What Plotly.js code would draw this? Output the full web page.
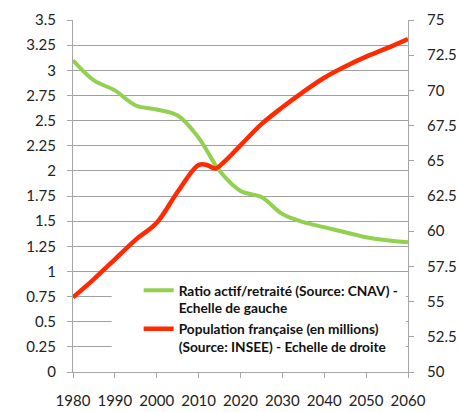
<!DOCTYPE html>
<html>
<head>
<meta charset="utf-8">
<script src="https://cdn.plot.ly/plotly-3.0.1.min.js"></script>
<style>html,body{margin:0;padding:0;background:#fff;}#chart{width:458px;height:412px;}</style>
</head>
<body>
<div id="chart"></div>
<script>
// ---- data ----
const ratioYears = [1980,1985,1990,1995,2000,2005,2010,2015,2020,2025,2030,2035,2040,2045,2050,2055,2060];
const ratioValues = [3.10,2.90,2.80,2.65,2.61,2.55,2.33,2.00,1.80,1.74,1.57,1.49,1.44,1.39,1.34,1.31,1.29];
const popYears = [1980,1985,1990,1995,2000,2005,2010,2012,2014,2016,2020,2025,2030,2035,2040,2045,2050,2055,2060];
const popValues = [55.3,56.6,58.0,59.4,60.6,62.8,64.7,64.7,64.45,64.9,66.1,67.6,68.8,69.9,70.9,71.7,72.4,73.0,73.65];
const xTicks = [1980,1990,2000,2010,2020,2030,2040,2050,2060];
const leftTickVals = [0,0.25,0.5,0.75,1,1.25,1.5,1.75,2,2.25,2.5,2.75,3,3.25,3.5];
const leftTickText = ["0","0.25","0.5","0.75","1","1.25","1.5","1.75","2","2.25","2.5","2.75","3","3.25","3.5"];
const rightTickVals = [50,52.5,55,57.5,60,62.5,65,67.5,70,72.5,75];
const rightTickText = ["50","52.5","55","57.5","60","62.5","65","67.5","70","72.5","75"];
const seriesNames = [
  "Ratio actif/retraité (Source: CNAV) -<br>Echelle de gauche",
  "Population française (en millions)<br>(Source: INSEE) - Echelle de droite"
];

const axisGray = "#a6a6a6";
const tickFont = {family: "Lato, 'Open Sans', sans-serif", size: 15, color: "#222"};

const traces = [
  {x: ratioYears, y: ratioValues, name: seriesNames[0], type: "scatter", mode: "lines",
   line: {color: "#92d050", width: 4, shape: "spline", smoothing: 1}, yaxis: "y"},
  {x: popYears, y: popValues, name: seriesNames[1], type: "scatter", mode: "lines",
   line: {color: "#ff2a00", width: 4.5, shape: "spline", smoothing: 1}, yaxis: "y2"}
];

const layout = {
  width: 458, height: 412,
  margin: {l: 73, r: 50, t: 20, b: 40, pad: 0},
  paper_bgcolor: "#fff", plot_bgcolor: "#fff",
  font: {family: "Lato, 'Open Sans', sans-serif", color: "#222"},
  xaxis: {range: [1980, 2060], tickvals: xTicks, ticktext: xTicks.map(String),
    showgrid: false, zeroline: false, showline: true, linecolor: axisGray, linewidth: 1,
    ticks: "outside", ticklen: 5, tickcolor: axisGray, tickfont: tickFont, ticklabelstandoff: 10},
  yaxis: {range: [0, 3.5], tickvals: leftTickVals, ticktext: leftTickText,
    showgrid: true, gridcolor: "#a0a0a0", gridwidth: 1, zeroline: false,
    showline: true, linecolor: axisGray, linewidth: 1,
    ticks: "outside", ticklen: 5, tickcolor: axisGray, tickfont: tickFont, ticklabelstandoff: 8},
  yaxis2: {range: [50, 75], tickvals: rightTickVals, ticktext: rightTickText,
    overlaying: "y", side: "right", showgrid: false, zeroline: false,
    showline: true, linecolor: axisGray, linewidth: 1,
    ticks: "outside", ticklen: 5, tickcolor: axisGray, tickfont: tickFont, ticklabelstandoff: 10},
  showlegend: true,
  legend: {x: 0.196, y: 0.276, xanchor: "left", yanchor: "top", bgcolor: "rgba(0,0,0,0)",
    borderwidth: 0, valign: "top", tracegroupgap: 0,
    font: {family: "Lato, sans-serif", size: 13.7, color: "#111", weight: "bold"}},
  shapes: [{type: "rect", xref: "paper", yref: "paper", x0: 0.1155, x1: 0.994, y0: 0.003, y1: 0.281,
    fillcolor: "#fff", line: {width: 0}, layer: "above"}]
};

Plotly.newPlot("chart", traces, layout, {displayModeBar: false, staticPlot: true});
</script>
</body>
</html>
